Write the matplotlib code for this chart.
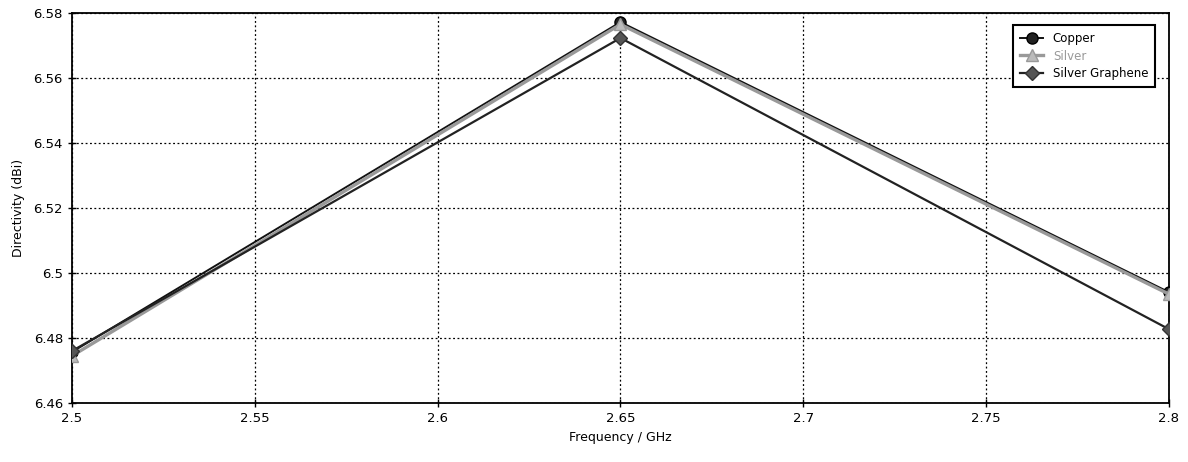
import matplotlib
matplotlib.use('Agg')
from matplotlib import pyplot as plt

# values
freq = [2.5, 2.65, 2.8]
copper = [6.4757, 6.5772, 6.4941]
silver = [6.4745, 6.5765, 6.4935]
silver_graphene = [6.4760, 6.5723, 6.4827]

xticks = [2.5, 2.55, 2.6, 2.65, 2.7, 2.75, 2.8]
xlabels = ['2.5', '2.55', '2.6', '2.65', '2.7', '2.75', '2.8']
yticks = [6.46, 6.48, 6.5, 6.52, 6.54, 6.56, 6.58]
ylabels = ['6.46', '6.48', '6.5', '6.52', '6.54', '6.56', '6.58']

plt.rcParams['font.family'] = ['DejaVu Sans']
plt.rcParams['font.size'] = 9.5

fig = plt.figure(figsize=(11.88, 4.62), dpi=100)
ax = fig.add_axes([0.0606, 0.1277, 0.9234, 0.8442])

ax.plot(freq, copper, color='#111111', linewidth=1.4, marker='o', markersize=8,
		markerfacecolor='#222222', markeredgecolor='#000000', label='Copper', zorder=3)
ax.plot(freq, silver, color='#999999', linewidth=2.4, marker='^', markersize=8,
		markerfacecolor='#bbbbbb', markeredgecolor='#999999', label='Silver', zorder=4)
ax.plot(freq, silver_graphene, color='#222222', linewidth=1.6, marker='D', markersize=7,
		markerfacecolor='#555555', markeredgecolor='#333333', label='Silver Graphene', zorder=5)

ax.set_xlim(2.5, 2.8)
ax.set_ylim(6.46, 6.58)
ax.set_xticks(xticks)
ax.set_xticklabels(xlabels)
ax.set_yticks(yticks)
ax.set_yticklabels(ylabels)
ax.tick_params(direction='inout', length=6, width=1, colors='black', labelsize=9.5)
ax.grid(True, linestyle=(0, (1.5, 2)), color='black', linewidth=0.9)
for s in ax.spines.values():
	s.set_linewidth(1.3)

ax.set_xlabel('Frequency / GHz', labelpad=4, fontsize=9)
ax.set_ylabel('Directivity (dBi)', labelpad=6, fontsize=9)

leg = ax.legend(loc='upper right', bbox_to_anchor=(0.993, 0.985), fancybox=False,
		edgecolor='black', framealpha=1, borderpad=0.6, handlelength=2.0,
		labelspacing=0.4, fontsize=8.5)
leg.get_frame().set_linewidth(1.5)
leg.get_texts()[1].set_color('#999999')

fig.savefig('out.png', dpi=100)
